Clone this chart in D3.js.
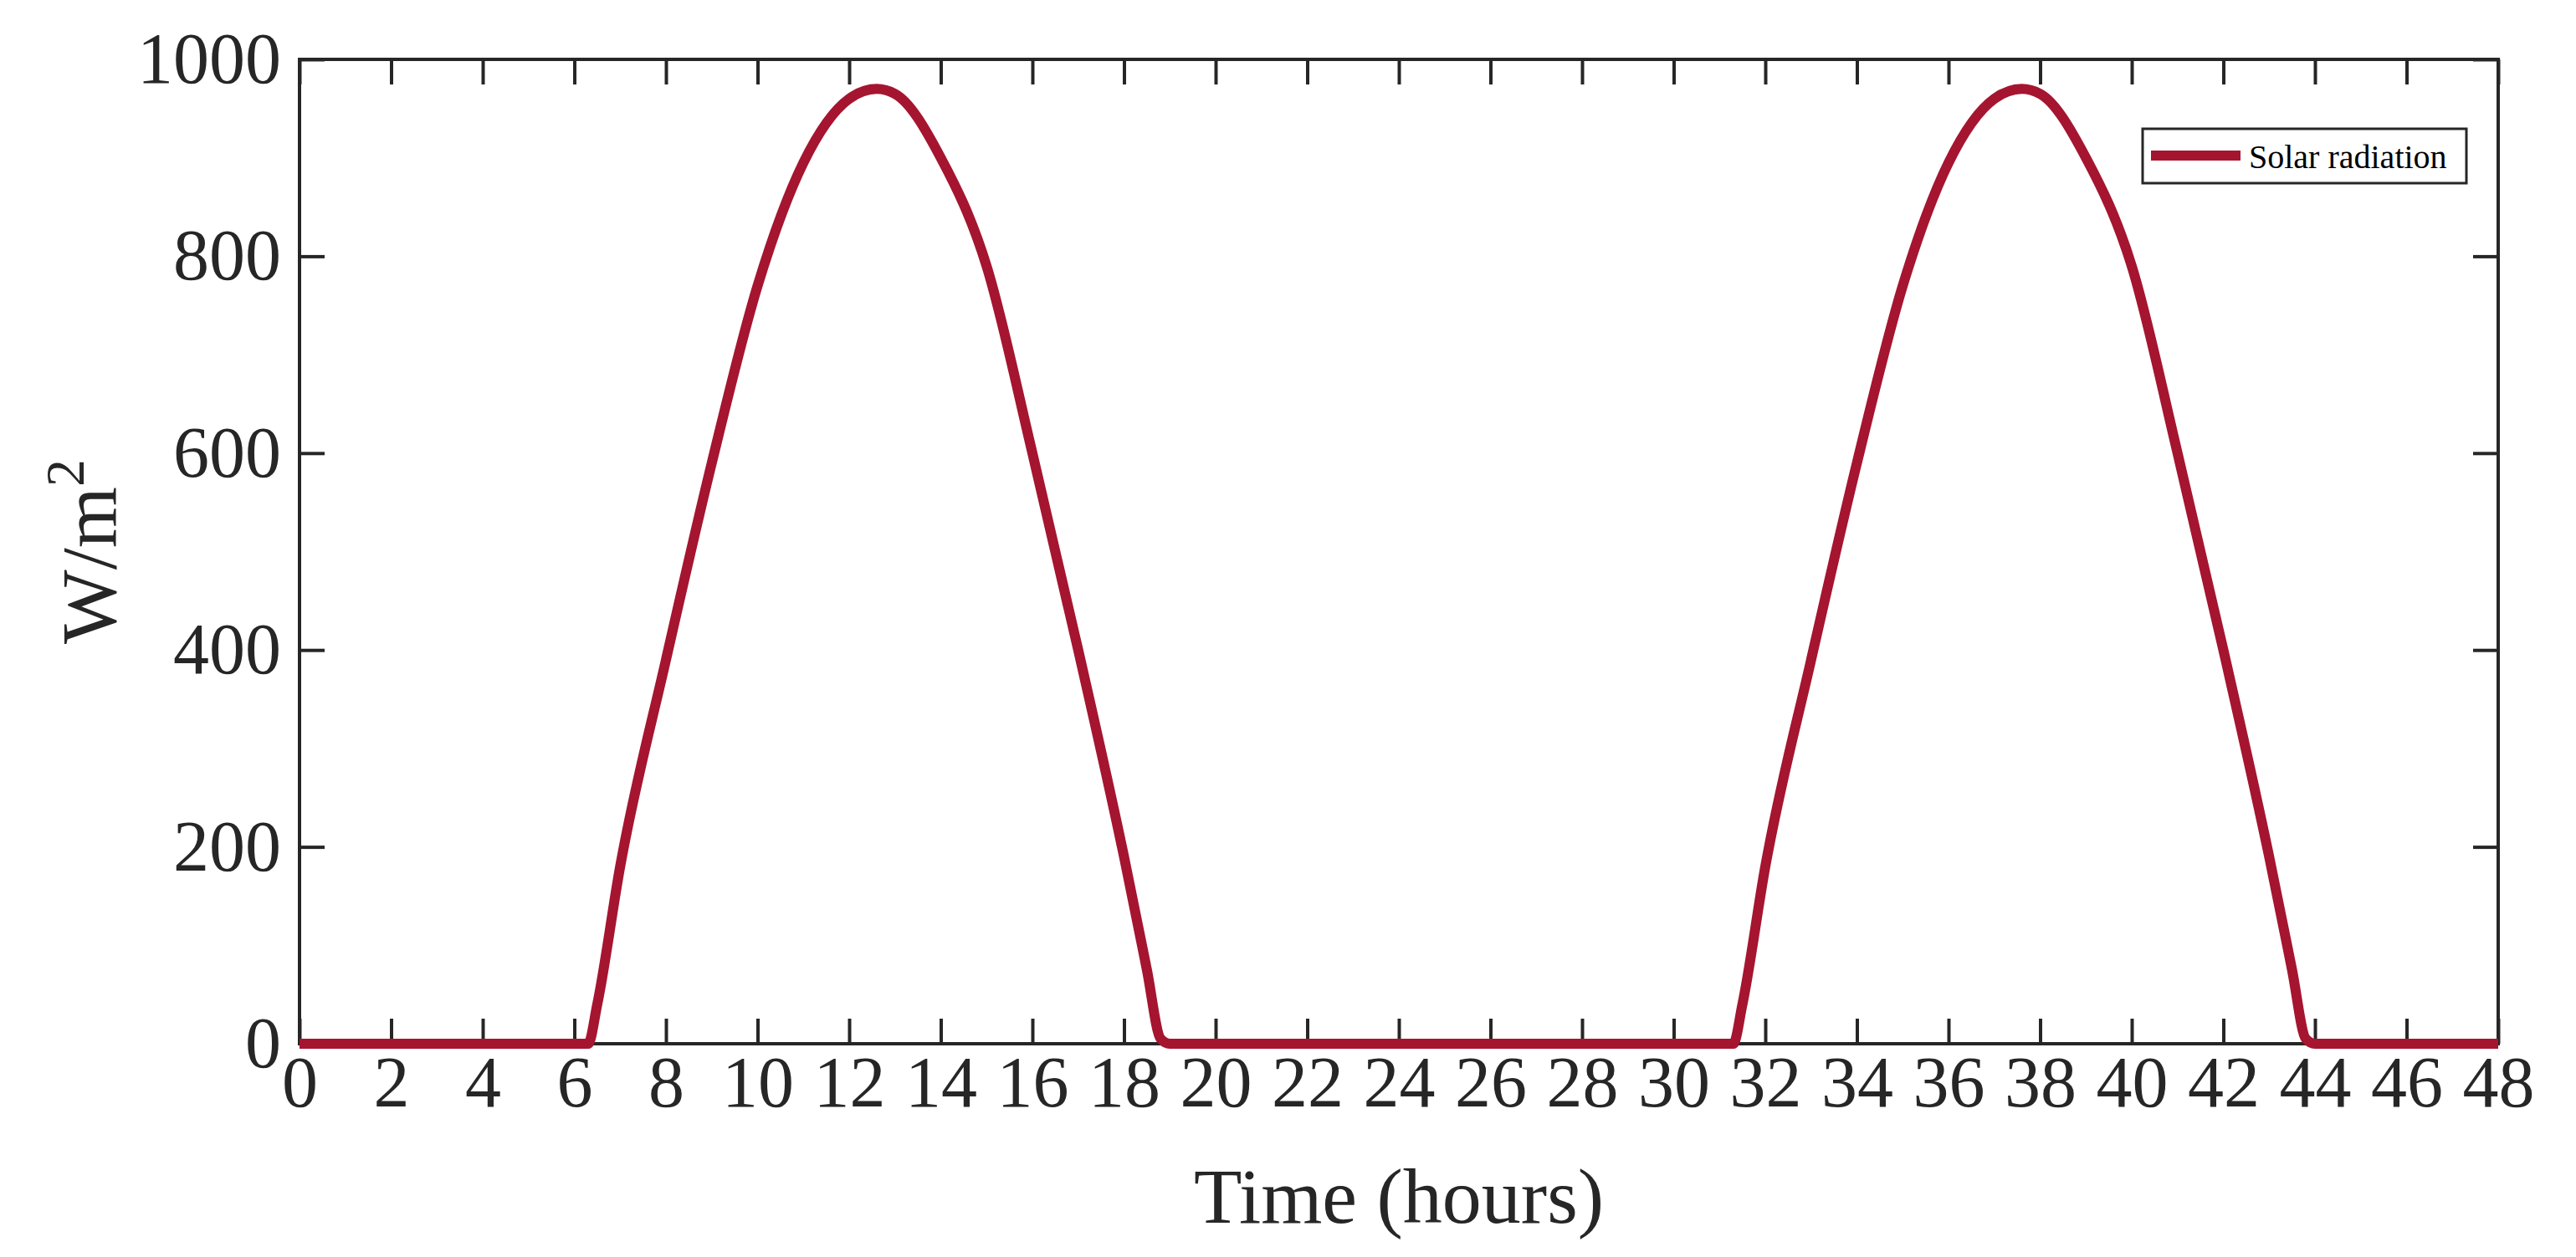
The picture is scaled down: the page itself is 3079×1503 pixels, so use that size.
<!DOCTYPE html>
<html><head><meta charset="utf-8">
<script src="https://cdn.jsdelivr.net/npm/d3@7"></script>
<style>body{margin:0;background:#fff}</style>
</head><body><div id="chart"></div>
<script>
// hours and radiation
var hours = [0, 6.3, 6.5, 7, 8, 9, 10, 11, 12, 12.6, 13, 14, 15, 16, 17, 18, 18.5, 18.8, 19,
             31.3, 31.5, 32, 33, 34, 35, 36, 37, 37.6, 38, 39, 40, 41, 42, 43, 43.5, 43.8, 44, 48];
var radiation = [0, 0, 40, 180, 390, 590, 770, 895, 960, 970, 965, 900, 790, 600, 400, 190, 75, 5, 0,
                 0, 40, 180, 390, 590, 770, 895, 960, 970, 965, 900, 790, 600, 400, 190, 75, 5, 0, 0];
var xTicks = d3.range(0, 49, 2);
var yTicks = [0, 200, 400, 600, 800, 1000];
var seriesName = "Solar radiation";

var W = 3079, H = 1503;
var m = {left: 358, right: W - 2986, top: 71, bottom: H - 1248};
var ink = "#262626", red = "#A51530", font = "Liberation Serif, Times New Roman, serif";

var svg = d3.select("#chart").append("svg").attr("width", W).attr("height", H);
var x = d3.scaleLinear().domain([0, 48]).range([m.left, W - m.right]);
var y = d3.scaleLinear().domain([0, 1000]).range([H - m.bottom, m.top]);

function styleAxis(g) {
    g.select(".domain").remove();
    g.selectAll("line").attr("stroke", ink).attr("stroke-width", 4);
    g.selectAll("text").attr("fill", ink).style("font-family", font).style("font-size", "86px");
}
svg.append("g").attr("transform", "translate(0," + y(0) + ")")
    .call(d3.axisBottom(x).tickValues(xTicks).tickSize(-30).tickPadding(14).tickFormat(d3.format("d"))).call(styleAxis);
svg.append("g").attr("transform", "translate(0," + y(1000) + ")")
    .call(d3.axisTop(x).tickValues(xTicks).tickSize(-30).tickFormat("")).call(styleAxis);
svg.append("g").attr("transform", "translate(" + x(0) + ",0)")
    .call(d3.axisLeft(y).tickValues(yTicks).tickSize(-30).tickPadding(22).tickFormat(d3.format("d"))).call(styleAxis);
svg.append("g").attr("transform", "translate(" + x(48) + ",0)")
    .call(d3.axisRight(y).tickValues(yTicks).tickSize(-30).tickFormat("")).call(styleAxis);

svg.append("rect").attr("x", x(0)).attr("y", y(1000))
    .attr("width", x(48) - x(0)).attr("height", y(0) - y(1000))
    .attr("fill", "none").attr("stroke", ink).attr("stroke-width", 4);

var line = d3.line().x(function (d, i) { return x(hours[i]); })
    .y(function (d) { return y(d); }).curve(d3.curveMonotoneX);
svg.append("path").datum(radiation).attr("d", line)
    .attr("fill", "none").attr("stroke", red).attr("stroke-width", 12).attr("stroke-linejoin", "round");

svg.append("text").attr("x", (x(0) + x(48)) / 2).attr("y", 1462).attr("text-anchor", "middle")
    .attr("fill", ink).style("font-family", font).style("font-size", "94px").text("Time (hours)");
var yl = svg.append("text").attr("transform", "translate(138," + ((y(0) + y(1000)) / 2) + ") rotate(-90)")
    .attr("text-anchor", "middle").attr("fill", ink).style("font-family", font).style("font-size", "94px");
yl.append("tspan").text("W/m");
yl.append("tspan").attr("dy", -38).style("font-size", "66px").text("2");

// legend
var lg = svg.append("g");
lg.append("rect").attr("x", 2561).attr("y", 154).attr("width", 387).attr("height", 65)
    .attr("fill", "#fff").attr("stroke", ink).attr("stroke-width", 3);
lg.append("line").attr("x1", 2571).attr("x2", 2678).attr("y1", 186).attr("y2", 186)
    .attr("stroke", red).attr("stroke-width", 12);
lg.append("text").attr("x", 2688).attr("y", 201).attr("fill", "#000")
    .style("font-family", font).style("font-size", "40px").text(seriesName);
</script></body></html>
